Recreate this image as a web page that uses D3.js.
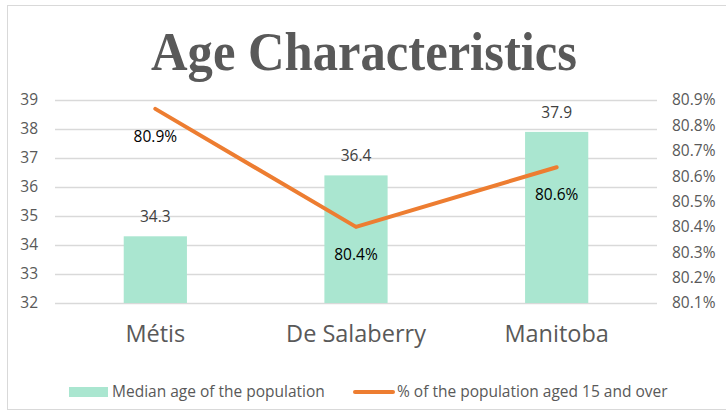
<!DOCTYPE html>
<html>
<head>
<meta charset="utf-8">
<script src="https://cdn.jsdelivr.net/npm/d3@7"></script>
<style>
  html, body { margin: 0; padding: 0; background: #fff; }
  svg { display: block; }
</style>
</head>
<body>
<svg id="chart"></svg>
<script>
const categories = ['Métis', 'De Salaberry', 'Manitoba'];
const medianAge = [34.3, 36.4, 37.9];
const pctAged15 = [80.865, 80.40, 80.635];
const leftTicks = [32, 33, 34, 35, 36, 37, 38, 39];
const rightTicks = [80.1, 80.2, 80.3, 80.4, 80.5, 80.6, 80.7, 80.8, 80.9];
const seriesNames = ['Median age of the population', '% of the population aged 15 and over'];

const W = 726, H = 412;
const barColor = '#aae6d0';
const lineColor = '#ed7d31';
const gridColor = '#d9d9d9';
const axisText = '#595959';
const labelText = '#404040';
const font = '"Open Sans", Lato, sans-serif';

const PLOT = { left: 55, right: 657, top: 100, bottom: 303 };

const svg = d3.select('#chart').attr('width', W).attr('height', H);

// chart frame
svg.append('rect')
    .attr('x', 7.5).attr('y', 5.5)
    .attr('width', 740).attr('height', 404)
    .attr('fill', '#fff')
    .attr('stroke', gridColor);

svg.append('text')
    .attr('x', 364).attr('y', 70)
    .attr('text-anchor', 'middle')
    .attr('textLength', 426)
    .attr('lengthAdjust', 'spacingAndGlyphs')
    .style('font-family', '"Liberation Serif", "DejaVu Serif", serif')
    .style('font-weight', 'bold')
    .style('font-size', '54px')
    .style('fill', axisText)
    .text('Age Characteristics');

const x = d3.scaleBand()
    .domain(categories)
    .range([PLOT.left, PLOT.right])
    .padding(0);
const barW = x.bandwidth() * 0.315;
const cx = d => x(d) + x.bandwidth() / 2;

const y = d3.scaleLinear().domain([32, 39]).range([PLOT.bottom, PLOT.top]);
const y2 = d3.scaleLinear().domain([80.1, 80.9]).range([PLOT.bottom, PLOT.top]);

// gridlines
svg.append('g')
    .attr('transform', `translate(${PLOT.left},0)`)
    .call(d3.axisLeft(y).tickValues(leftTicks).tickSize(-(PLOT.right - PLOT.left)).tickFormat(''))
    .call(g => g.select('.domain').remove())
    .selectAll('line')
    .attr('stroke', gridColor)
    .attr('stroke-width', 1.3);

// left axis labels
svg.append('g')
    .attr('transform', `translate(${PLOT.left},0)`)
    .call(d3.axisLeft(y).tickValues(leftTicks).tickSize(0).tickPadding(17).tickFormat(d3.format('d')))
    .call(g => g.select('.domain').remove())
    .selectAll('text')
    .style('font-family', font)
    .style('font-size', '15.5px')
    .style('fill', axisText);

// right axis labels
svg.append('g')
    .attr('transform', `translate(${PLOT.right},0)`)
    .call(d3.axisRight(y2).tickValues(rightTicks).tickSize(0).tickPadding(15)
        .tickFormat(d => d.toFixed(1) + '%'))
    .call(g => g.select('.domain').remove())
    .selectAll('text')
    .style('font-family', font)
    .style('font-size', '15.5px')
    .style('fill', axisText);

// bars
svg.selectAll('rect.bar')
    .data(categories)
    .join('rect')
    .attr('class', 'bar')
    .attr('x', d => cx(d) - barW / 2)
    .attr('y', (d, i) => y(medianAge[i]))
    .attr('width', barW)
    .attr('height', (d, i) => y(32) - y(medianAge[i]))
    .attr('fill', barColor);

// bar labels
svg.selectAll('text.barLabel')
    .data(categories)
    .join('text')
    .attr('class', 'barLabel')
    .attr('x', d => cx(d))
    .attr('y', (d, i) => y(medianAge[i]) - 14)
    .attr('text-anchor', 'middle')
    .style('font-family', font)
    .style('font-size', '15.5px')
    .style('fill', labelText)
    .text((d, i) => medianAge[i].toFixed(1));

// line
const line = d3.line()
    .x((d, i) => cx(categories[i]))
    .y(d => y2(d));

svg.append('path')
    .datum(pctAged15)
    .attr('d', line)
    .attr('fill', 'none')
    .attr('stroke', lineColor)
    .attr('stroke-width', 4)
    .attr('stroke-linecap', 'round')
    .attr('stroke-linejoin', 'round');

// line labels
svg.selectAll('text.lineLabel')
    .data(categories)
    .join('text')
    .attr('class', 'lineLabel')
    .attr('x', d => cx(d))
    .attr('y', (d, i) => y2(pctAged15[i]) + 33)
    .attr('text-anchor', 'middle')
    .style('font-family', font)
    .style('font-size', '15.5px')
    .style('fill', '#000')
    .text((d, i) => pctAged15[i].toFixed(1) + '%');

// category axis
svg.append('g')
    .attr('transform', `translate(0,${PLOT.bottom})`)
    .call(d3.axisBottom(x).tickSize(0).tickPadding(22))
    .call(g => g.select('.domain').remove())
    .selectAll('text')
    .style('font-family', font)
    .style('font-size', '23.5px')
    .style('fill', axisText);

// legend
const legend = svg.append('g');
legend.append('rect')
    .attr('x', 69).attr('y', 387)
    .attr('width', 39).attr('height', 10)
    .attr('fill', barColor);
legend.append('text')
    .attr('x', 112).attr('y', 397)
    .style('font-family', font)
    .style('font-size', '15.5px')
    .style('fill', axisText)
    .text(seriesNames[0]);
legend.append('line')
    .attr('x1', 355).attr('x2', 393)
    .attr('y1', 392).attr('y2', 392)
    .attr('stroke', lineColor)
    .attr('stroke-width', 4)
    .attr('stroke-linecap', 'round');
legend.append('text')
    .attr('x', 397).attr('y', 397)
    .style('font-family', font)
    .style('font-size', '15.5px')
    .style('fill', axisText)
    .text(seriesNames[1]);
</script>
</body>
</html>
